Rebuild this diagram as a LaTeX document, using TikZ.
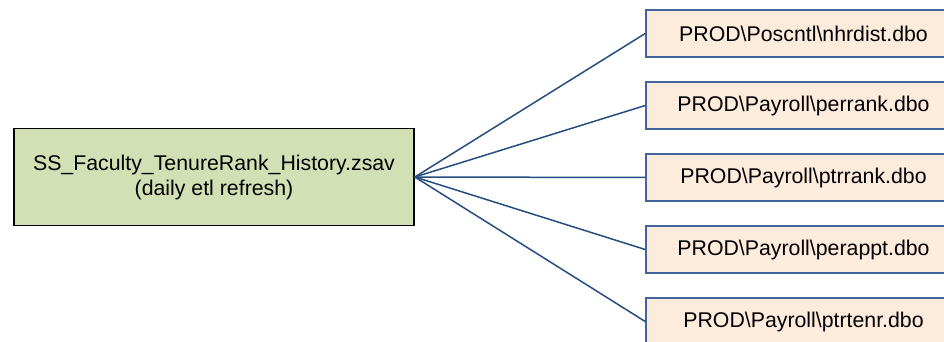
\documentclass[tikz,border=0pt]{standalone}
\usepackage{fontspec}
\setmainfont{Liberation Sans}
\usetikzlibrary{positioning}
\definecolor{srcgreen}{HTML}{D3E0B5}
\definecolor{tblpeach}{HTML}{FDEBDC}
\definecolor{linkblue}{HTML}{264D80}
\definecolor{tblborder}{HTML}{41649A}
\begin{document}
\begin{tikzpicture}[x=1pt, y=-1pt,
  node distance=23.4pt,
  source/.style={rectangle, draw=black, line width=1.6pt, fill=srcgreen,
                 minimum width=400pt, minimum height=97pt, align=center,
                 inner sep=0pt, font=\fontsize{21.3}{25}\selectfont},
  tbl/.style={rectangle, draw=tblborder, line width=1.6pt, fill=tblpeach,
              minimum width=315pt, minimum height=47pt, inner sep=0pt,
              font=\fontsize{21.3}{25}\selectfont},
  link/.style={draw=linkblue, line width=1.5pt}
]
\useasboundingbox (0,0) rectangle (944,342);
\clip (0,0) rectangle (944,342);
\node (src) [source] at (214,177) {SS\_Faculty\_TenureRank\_History.zsav\\(daily etl refresh)};
\node (t1)  [tbl] at (803.5,33.5)  {PROD\textbackslash Poscntl\textbackslash nhrdist.dbo};
\node (t2)  [tbl, below=of t1]     {PROD\textbackslash Payroll\textbackslash perrank.dbo};
\node (t3)  [tbl, below=of t2]     {PROD\textbackslash Payroll\textbackslash ptrrank.dbo};
\node (t4)  [tbl, below=of t3]     {PROD\textbackslash Payroll\textbackslash perappt.dbo};
\node (t5)  [tbl, below=of t4]     {PROD\textbackslash Payroll\textbackslash ptrtenr.dbo};
\foreach \t in {t1,t2,t3,t4,t5}
  \draw [link] (src.east) -- (\t.west);
\end{tikzpicture}
\end{document}
